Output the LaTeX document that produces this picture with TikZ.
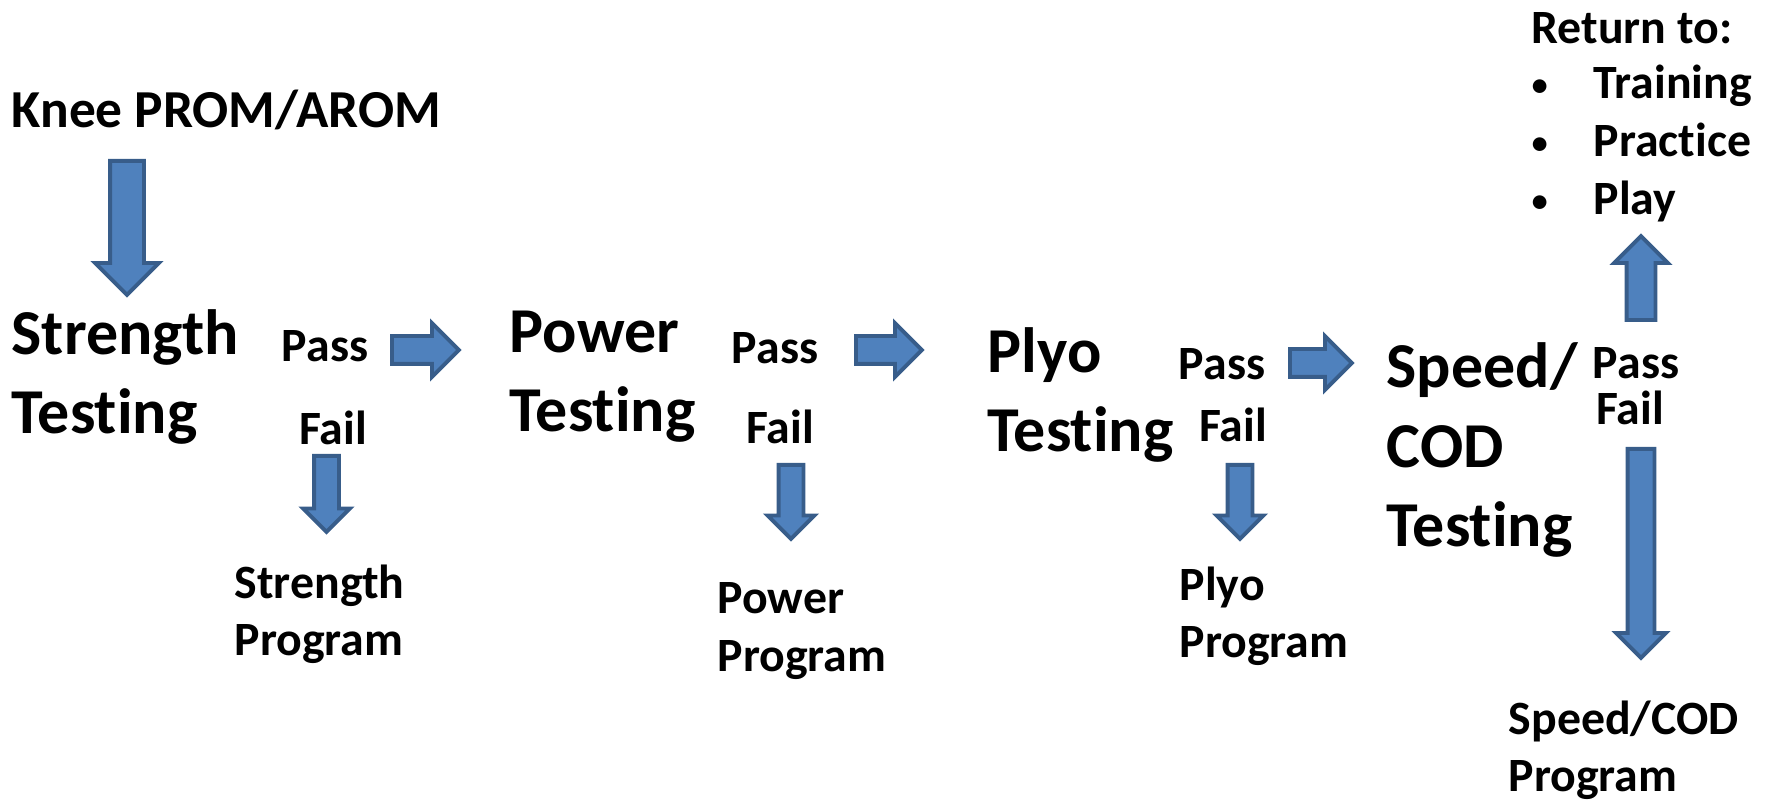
\documentclass[tikz,border=0pt]{standalone}
\usepackage{fontspec}
\setmainfont[Ligatures=NoCommon]{Carlito}
\usetikzlibrary{shapes.arrows}
\definecolor{arrowfill}{HTML}{4F81BD}
\definecolor{arrowedge}{HTML}{385D8A}
\tikzset{
  blockarr/.style={single arrow, draw=arrowedge, fill=arrowfill, line width=1.1pt,
    inner xsep=0pt, inner ysep=0.105cm, minimum width=0pt, anchor=tail,
    single arrow head extend=0.11cm, single arrow tip angle=90},
  bigtxt/.style={anchor=west, align=left, inner sep=0pt, font=\fontsize{18.2}{22.5}\selectfont\bfseries},
  smalltxt/.style={inner sep=0pt, align=left, font=\fontsize{13.6}{16.3}\selectfont\bfseries}
}
\begin{document}
\begin{tikzpicture}
    \useasboundingbox (0,0) rectangle (17.67,8.01);
    \node[anchor=west, inner sep=0pt, font=\fontsize{15.2}{18}\selectfont\bfseries] (knee) at (0.11,6.91) {Knee PROM/AROM};
    \node[bigtxt] (strtest) at (0.11,4.24) {Strength\\Testing};
    \node[bigtxt] (powtest) at (5.09,4.24) {Power\\Testing};
    \node[bigtxt] (plytest) at (9.87,4.06) {Plyo\\Testing};
    \node[bigtxt] (spdtest) at (13.86,3.51) {Speed/\\COD\\Testing};

    \node[smalltxt] (pass1) at (3.25,4.55) {Pass};
    \node[smalltxt] (fail1) at (3.33,3.73) {Fail};
    \node[smalltxt] (pass2) at (7.75,4.53) {Pass};
    \node[smalltxt] (fail2) at (7.80,3.74) {Fail};
    \node[smalltxt] (pass3) at (12.22,4.37) {Pass};
    \node[smalltxt] (fail3) at (12.33,3.76) {Fail};
    \node[smalltxt] (pass4) at (16.36,4.38) {Pass};
    \node[smalltxt] (fail4) at (16.30,3.93) {Fail};

    \node[smalltxt, anchor=west] (strprog) at (2.34,1.87) {Strength\\Program};
    \node[smalltxt, anchor=west] (powprog) at (7.17,1.70) {Power\\Program};
    \node[smalltxt, anchor=west] (plyprog) at (11.79,1.85) {Plyo\\Program};
    \node[smalltxt, anchor=west] (spdprog) at (15.08,0.51) {Speed/COD\\Program};

    \node[smalltxt, anchor=base west] (ret) at (15.31,7.57) {Return to:};
    \node[smalltxt, anchor=base, font=\fontsize{11}{13}\selectfont] (b1) at (15.40,7.03) {\textbullet};
    \node[smalltxt, anchor=base, font=\fontsize{11}{13}\selectfont] (b2) at (15.40,6.45) {\textbullet};
    \node[smalltxt, anchor=base, font=\fontsize{11}{13}\selectfont] (b3) at (15.40,5.87) {\textbullet};
    \node[smalltxt, anchor=base west] (train) at (15.93,7.02) {Training};
    \node[smalltxt, anchor=base west] (pract) at (15.93,6.44) {Practice};
    \node[smalltxt, anchor=base west] (play) at (15.93,5.86) {Play};

    \node[blockarr, inner ysep=0.15cm, single arrow head extend=0.15cm, minimum height=1.34cm, rotate=-90] (kneearr) at (1.27,6.42) {};
    \node[blockarr, inner ysep=0.12cm, single arrow head extend=0.13cm, minimum height=0.67cm] (passarr1) at (3.90,4.51) {};
    \node[blockarr, inner ysep=0.12cm, single arrow head extend=0.13cm, minimum height=0.66cm] (passarr2) at (8.54,4.51) {};
    \node[blockarr, inner ysep=0.12cm, single arrow head extend=0.13cm, minimum height=0.62cm] (passarr3) at (12.88,4.38) {};
    \node[blockarr, minimum height=0.76cm, rotate=-90] (failarr1) at (3.265,3.47) {};
    \node[blockarr, minimum height=0.74cm, rotate=-90] (failarr2) at (7.91,3.38) {};
    \node[blockarr, minimum height=0.74cm, rotate=-90] (failarr3) at (12.40,3.38) {};
    \node[blockarr, inner ysep=0.125cm, single arrow head extend=0.125cm, minimum height=0.84cm, rotate=90] (passarr4) at (16.41,4.79) {};
    \node[blockarr, inner ysep=0.115cm, single arrow head extend=0.115cm, minimum height=2.09cm, rotate=-90] (failarr4) at (16.41,3.54) {};
\end{tikzpicture}
\end{document}
